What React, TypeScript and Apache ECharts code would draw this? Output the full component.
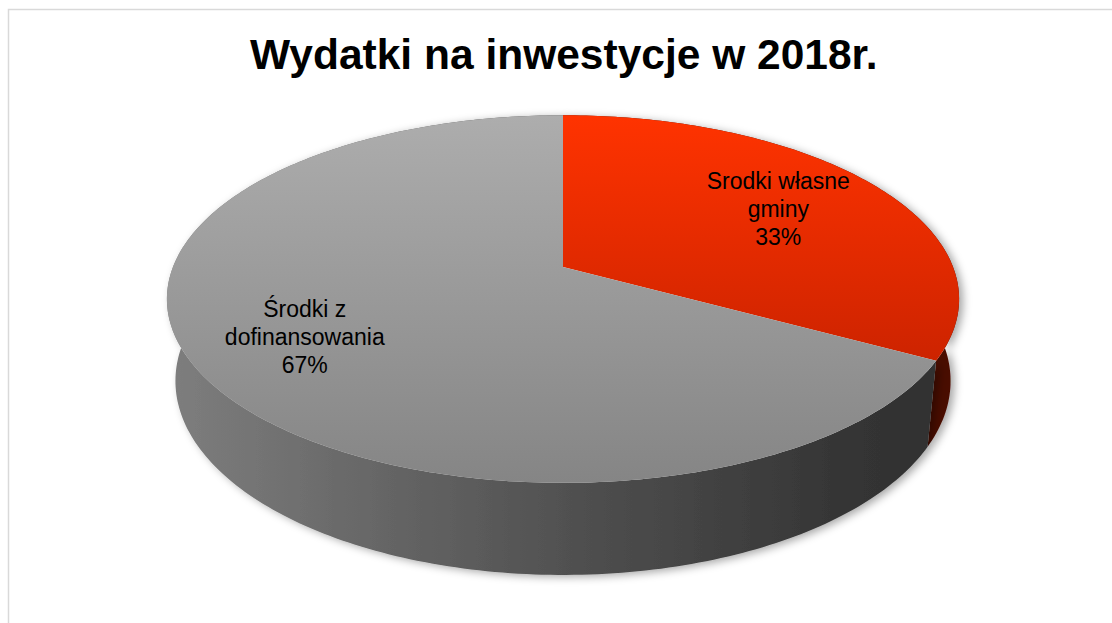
import React, { useEffect, useRef } from 'react';
import * as echarts from 'echarts';

// ---- data ----
const TITLE = 'Wydatki na inwestycje w 2018r.';
const categories = ['Srodki własne\ngminy', 'Środki z\ndofinansowania'];
const values = [33, 67];

// ---- styles / layout ----
const topColors = [
  ['#ff3300', '#cc2300'],
  ['#adadad', '#858585'],
];
const sideColors = [
  ['#5e1200', '#4a0d00'],
  ['#7e7e7e', '#2f2f2f'],
];
const labelRadius = [0.68, 0.72];
const FONT = '"Liberation Sans", Arial, Helvetica, sans-serif';

// perspective projection of a flat cylinder
const CX = 563;
const CY = 267;
const SIN_A = 0.457;
const COS_A = 0.889;
const R = 0.196;
const F = 1990;
const H = 0.0467;

function project(r: number, theta: number, z: number): number[] {
  const X = r * R * Math.sin(theta);
  const Y = r * R * Math.cos(theta);
  const depth = 1 + Y * COS_A - z * SIN_A;
  return [CX + (F * X) / depth, CY - (F * (Y * SIN_A + z * COS_A)) / depth];
}

function renderItem(params: any, api: any) {
  const i = params.dataIndex;
  const v = api.value(0);
  const total = values.reduce((a, b) => a + b, 0);
  let before = 0;
  for (let k = 0; k < i; k++) before += values[k];
  const a0 = (before / total) * Math.PI * 2;
  const a1 = ((before + v) / total) * Math.PI * 2;
  const steps = Math.max(8, Math.ceil(((a1 - a0) / (Math.PI * 2)) * 360));
  const rim: number[][] = [];
  const bottom: number[][] = [];
  for (let s = 0; s <= steps; s++) {
    const t = a0 + ((a1 - a0) * s) / steps;
    rim.push(project(1, t, 0));
    bottom.push(project(1, t, -H));
  }
  const top = [project(0, 0, 0)].concat(rim);
  const side = rim.concat(bottom.slice().reverse());
  const mid = (a0 + a1) / 2;
  const lp = project(labelRadius[i], mid, 0);
  const pct = Math.round((v / total) * 100) + '%';
  return {
    type: 'group',
    children: [
      {
        type: 'polygon',
        z2: 1,
        shape: { points: side },
        style: {
          fill: new echarts.graphic.LinearGradient(
            167, 0, 960, 0,
            [
              { offset: 0, color: sideColors[i][0] },
              { offset: 0.5, color: i === 1 ? '#515151' : sideColors[i][0] },
              { offset: 0.85, color: i === 1 ? '#353535' : sideColors[i][1] },
              { offset: 1, color: sideColors[i][1] },
            ],
            true
          ),
          stroke: 'none',
          shadowBlur: 8,
          shadowColor: 'rgba(0,0,0,0.35)',
          shadowOffsetX: 4,
          shadowOffsetY: 2,
        },
      },
      {
        type: 'polygon',
        z2: 10,
        shape: { points: top },
        style: {
          fill: new echarts.graphic.LinearGradient(
            0, 115, 0, i === 0 ? 365 : 483,
            [
              { offset: 0, color: topColors[i][0] },
              { offset: 1, color: topColors[i][1] },
            ],
            true
          ),
          stroke: 'none',
        },
      },
      {
        type: 'text',
        z2: 20,
        x: lp[0],
        y: lp[1],
        style: {
          text: categories[i] + '\n' + pct,
          fontFamily: FONT,
          fontSize: 23,
          lineHeight: 28,
          fill: '#000000',
          align: 'center',
          verticalAlign: 'middle',
        },
      },
    ],
  };
}

export default function App() {
  const ref = useRef<HTMLDivElement>(null);
  useEffect(() => {
    document.body.style.margin = '0';
    const chart = echarts.init(ref.current!, null, { renderer: 'svg' });
    chart.setOption({
      animation: false,
      backgroundColor: '#ffffff',
      title: {
        text: TITLE,
        left: 250,
        top: 33,
        padding: 0,
        textStyle: {
          fontFamily: FONT,
          fontSize: 42.5,
          fontWeight: 'bold',
          color: '#000000',
        },
      },
      graphic: [
        {
          type: 'rect',
          left: 6,
          top: 7,
          shape: { width: 1200, height: 700 },
          style: { fill: 'none', stroke: '#d9d9d9', lineWidth: 1.5 },
          silent: true,
        },
      ],
      series: [
        {
          type: 'custom',
          coordinateSystem: 'none',
          renderItem,
          data: values.map((v) => [v]),
        },
      ],
    });
    return () => chart.dispose();
  }, []);
  return (
    <div
      ref={ref}
      style={{ position: 'absolute', left: 0, top: 0, width: 1112, height: 623 }}
    />
  );
}
